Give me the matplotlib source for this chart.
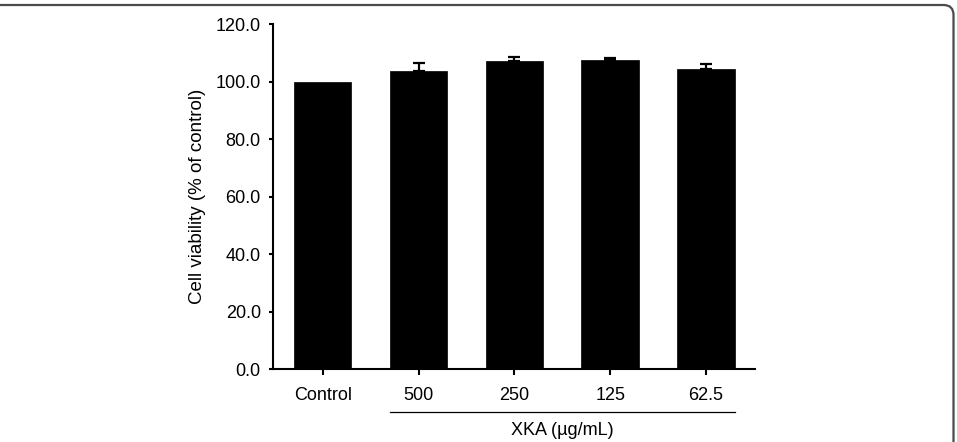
import matplotlib
matplotlib.use("Agg")
import matplotlib.pyplot as plt
from matplotlib.patches import FancyBboxPatch
from matplotlib.transforms import blended_transform_factory
import numpy as np

plt.rcParams['font.family'] = ['Liberation Sans', 'DejaVu Sans']

categories = ["Control", "500", "250", "125", "62.5"]
values = [100.0, 103.8, 107.2, 107.5, 104.6]
errors = [0.0, 2.7, 1.3, 0.7, 1.6]
yticks = [0, 20, 40, 60, 80, 100, 120]
ytick_labels = ["0.0", "20.0", "40.0", "60.0", "80.0", "100.0", "120.0"]
group_label = "XKA (\u00b5g/mL)"
ylabel = "Cell viability (% of control)"

W, H = 957, 442
fig = plt.figure(figsize=(W / 100, H / 100), dpi=100)
ax = fig.add_axes([273.3 / W, 1 - 369.3 / H, (755 - 273.3) / W, (369.3 - 24.3) / H])

x = np.arange(len(categories))
bw = 0.6
ax.bar(x, values, width=bw, color="black", edgecolor="black", linewidth=0.5, zorder=2)
lower = np.zeros(len(errors))
has_err = np.array(errors) > 0
ax.errorbar(x[has_err], np.array(values)[has_err],
            yerr=[lower[has_err], np.array(errors)[has_err]], fmt="none", ecolor="black",
            elinewidth=1.6, capsize=4, capthick=1.6, zorder=3)

ax.set_xlim(-0.515, len(categories) - 1 + 0.51)
ax.set_ylim(0, 120)
ax.set_yticks(yticks)
ax.set_yticklabels(ytick_labels)
ax.set_xticks(x)
ax.set_xticklabels(categories)

for s in ["top", "right"]:
    ax.spines[s].set_visible(False)
for s in ["left", "bottom"]:
    ax.spines[s].set_linewidth(1.5)
ax.tick_params(axis="y", direction="out", length=3, width=1.5, pad=6, labelsize=13)
ax.tick_params(axis="x", direction="out", length=4, width=1.5, pad=9, labelsize=13)
ax.set_ylabel(ylabel, fontsize=13.5, labelpad=7)

# group underline and label
tr = blended_transform_factory(ax.transData, ax.transAxes)
ax.plot([1 - bw / 2, len(categories) - 1 + bw / 2], [-0.124, -0.124], color="black",
        linewidth=0.9, transform=tr, clip_on=False)
ax.text((1 + len(categories) - 1) / 2, -0.176, group_label, transform=tr,
        ha="center", va="center", fontsize=13)

# rounded frame
frame = FancyBboxPatch((-30, -30), 953.5 + 30, 437 + 30,
                       boxstyle="round,pad=0,rounding_size=10",
                       transform=None, facecolor="none", edgecolor="#4a4a4a",
                       linewidth=1.6, clip_on=False)
fig.patches.append(frame)

fig.savefig("out.png", dpi=100)
